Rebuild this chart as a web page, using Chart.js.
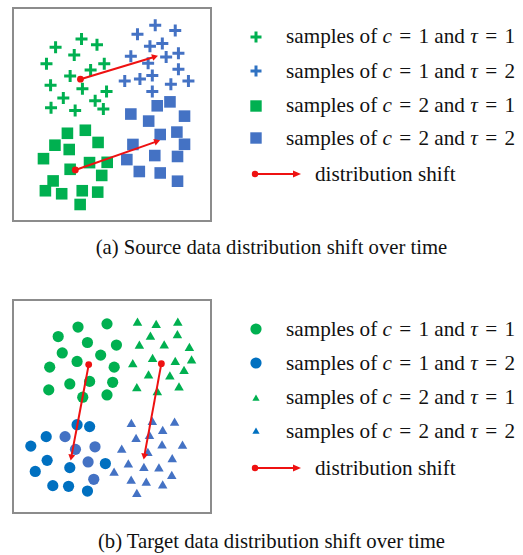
<!DOCTYPE html>
<html>
<head>
<meta charset="utf-8">
<script src="https://cdn.jsdelivr.net/npm/chart.js@4"></script>
<style>
body { margin:0; background:#fff; width:523px; height:555px; position:relative; overflow:hidden;
       font-family:"Liberation Serif","Times New Roman",serif; color:#111; }
.panel { position:absolute; left:12px; width:200px; height:215px; }
.frame { position:absolute; left:12px; width:200px; height:215px; box-sizing:border-box;
         border:2px solid #8c8c8c; pointer-events:none; }
.row { position:absolute; left:240px; height:30px; display:flex; align-items:center;
       font-size:21.2px; white-space:nowrap; }
.row svg { flex:none; height:30px; }
.cap { position:absolute; left:0; width:543px; text-align:center; font-size:20.7px; line-height:30px; }
i { font-style:italic; }
.eq { margin:0 2px; }
</style>
</head>
<body>
<div class="panel" style="top:7px"><canvas id="srcChart"></canvas></div>
<div class="frame" style="top:7px"></div>
<div class="panel" style="top:299px"><canvas id="tgtChart"></canvas></div>
<div class="frame" style="top:299px"></div>
<div id="legends"></div>
<div class="cap" style="top:232px">(a) Source data distribution shift over time</div>
<div class="cap" style="top:526px">(b) Target data distribution shift over time</div>

<script>
// coordonnées (repère local de chaque cadre, y vers le bas)
// (a) source
const srcC1T1X = [38, 66.5, 83.5, 58.5, 28, 91.5, 76.5, 54, 32.5, 67.5, 94, 46.5, 81.5, 33, 59.5, 90.5];
const srcC1T1Y = [34, 25, 31.5, 42.5, 52, 52, 59, 65.5, 75.5, 79.5, 82.5, 89.5, 92.5, 100, 103, 101.5];
const srcC1T2X = [147.5, 128, 169.5, 141.7, 155.3, 120.7, 159.5, 173, 139.7, 173, 114, 130.7, 144.3, 164.7, 184, 144.3];
const srcC1T2Y = [10, 20, 15.7, 33, 30, 44, 44.7, 40.7, 51.7, 58, 71, 68.8, 65, 74.5, 71, 82.3];
const srcC2T1X = [51, 70.7, 37.3, 53, 84.7, 24.7, 75.3, 94.7, 54, 88.7, 35.3, 26.8, 44.7, 67.3, 84.3, 65];
const srcC2T1Y = [128, 124.7, 141, 145.7, 138, 155.7, 160, 159.7, 167.3, 174, 180, 190.7, 194, 190.7, 192.2, 205.7];
const srcC2T2X = [149.7, 163.7, 120.7, 140.3, 179.7, 153, 171.3, 123, 179.7, 116.3, 147, 172, 130, 153, 172];
const srcC2T2Y = [98, 93.7, 107, 114.7, 109.3, 129.3, 126.7, 140.2, 140, 156.7, 152.3, 153.3, 169.7, 171.3, 180.3];
// flèches : départ -> arrivée
const srcShiftFromX = [65.3, 59.7], srcShiftFromY = [69, 168];
const srcShiftToX = [146.3, 148.7], srcShiftToY = [44.7, 137.1];

// (b) target
const tgtC1T1X = [64, 94.7, 43, 74, 104.7, 47.3, 63, 88, 34, 102.3, 76.3, 100.7, 55.3, 33, 69, 94.7];
const tgtC1T1Y = [23.7, 20.3, 33.7, 40, 42.7, 51, 60, 53.3, 66, 66, 81, 82, 83.7, 90, 97.7, 95.3];
const tgtC1T2X = [63, 76.3, 30.3, 50.3, 14, 61.3, 82, 31.3, 74.7, 93, 18.7, 55.3, 80.7, 37.3, 54, 74];
const tgtC1T2Y = [126.7, 128.7, 139.3, 139.3, 149.3, 152.7, 150, 164.3, 166, 167.7, 176, 172, 184.3, 191, 191.7, 196.7];
const tgtC2T1X = [127, 146.8, 169.7, 140.7, 169.3, 129, 155.3, 182, 143, 122, 167, 184.3, 176.3, 138.7, 161.3, 126.3, 171, 148];
const tgtC2T1Y = [19.3, 21.7, 19.3, 34.3, 32.7, 43.7, 43.3, 46, 57.7, 63.3, 60.7, 59.3, 70.3, 75, 76, 88.5, 87.7, 92.7];
const tgtC2T2X = [120.5, 142.7, 166.3, 153.7, 125.5, 139.7, 153, 174.7, 110.3, 138, 163.8, 117.3, 133.8, 149.7, 102.2, 163.3, 120.3, 136.3, 153.7, 126.3];
const tgtC2T2Y = [126.3, 124, 125, 133.7, 142, 139, 149, 149.3, 153.3, 156.8, 163.3, 169, 172.7, 173.3, 177.7, 181, 186, 188.3, 191, 200];
const tgtShiftFromX = [75.3, 152.3], tgtShiftFromY = [63.3, 62.3];
const tgtShiftToX = [57, 134.3], tgtShiftToY = [160.3, 159.3];

const GREEN = '#00b050', BLUE = '#4472c4', DBLUE = '#0070c0', RED = '#ee1111';

const pts = (xs, ys) => xs.map((x, i) => ({ x: x, y: ys[i] }));

function arrows(fx, fy, tx, ty) {
    return fx.map((x, i) => ({
        showLine: true,
        data: [{ x: x, y: fy[i] }, { x: tx[i], y: ty[i] }],
        borderColor: RED,
        borderWidth: 2,
        pointBackgroundColor: RED,
        pointBorderColor: RED,
        pointBorderWidth: 0,
        pointStyle: ctx => ctx.dataIndex === 0 ? 'circle' : 'triangle',
        pointRadius: ctx => ctx.dataIndex === 0 ? 3.4 : 4,
        pointRotation: ctx => {
            if (ctx.dataIndex === 0) return 0;
            const d = ctx.dataset.data, sx = ctx.chart.scales.x, sy = ctx.chart.scales.y;
            const dx = sx.getPixelForValue(d[1].x) - sx.getPixelForValue(d[0].x);
            const dy = sy.getPixelForValue(d[1].y) - sy.getPixelForValue(d[0].y);
            return Math.atan2(dx, -dy) * 180 / Math.PI;
        }
    }));
}

function marks(xs, ys, style, color, radius) {
    const cross = style === 'cross';
    return {
        data: pts(xs, ys),
        pointStyle: style,
        pointRadius: radius,
        pointBackgroundColor: color,
        pointBorderColor: color,
        pointBorderWidth: cross ? 3 : 0
    };
}

function makeChart(id, datasets) {
    return new Chart(document.getElementById(id), {
        type: 'scatter',
        data: { datasets: datasets },
        options: {
            responsive: true,
            maintainAspectRatio: false,
            animation: false,
            events: [],
            layout: { padding: 0 },
            scales: {
                x: { type: 'linear', min: 0, max: 200, display: false },
                y: { type: 'linear', min: 0, max: 215, reverse: true, display: false }
            },
            plugins: { legend: { display: false }, tooltip: { enabled: false } }
        }
    });
}

// (a)
makeChart('srcChart', [
    ...arrows(srcShiftFromX, srcShiftFromY, srcShiftToX, srcShiftToY),
    marks(srcC1T1X, srcC1T1Y, 'cross', GREEN, 6),
    marks(srcC1T2X, srcC1T2Y, 'cross', BLUE, 6),
    marks(srcC2T1X, srcC2T1Y, 'rect', GREEN, 8.2),
    marks(srcC2T2X, srcC2T2Y, 'rect', BLUE, 8.2)
]);

// (b)
const lighter = [3, 5, 6, 8, 12]; // quelques cercles plus clairs
const tgtBlue = marks(tgtC1T2X, tgtC1T2Y, 'circle', DBLUE, 5.6);
tgtBlue.pointBackgroundColor = ctx => lighter.includes(ctx.dataIndex) ? BLUE : DBLUE;
makeChart('tgtChart', [
    ...arrows(tgtShiftFromX, tgtShiftFromY, tgtShiftToX, tgtShiftToY),
    marks(tgtC1T1X, tgtC1T1Y, 'circle', GREEN, 5.6),
    tgtBlue,
    marks(tgtC2T1X, tgtC2T1Y, 'triangle', GREEN, 5.5),
    marks(tgtC2T2X, tgtC2T2Y, 'triangle', BLUE, 5.5)
]);

// Légendes
const legendLabels = [['1', '1'], ['1', '2'], ['2', '1'], ['2', '2']];
const srcRows = [36.7, 71, 105.7, 138.3, 174.3];
const tgtRows = [329.3, 363.3, 397.7, 431, 468.3];

const svgPlus = c => `<svg width="46"><path d="M16 9.5v11M10.5 15h11" stroke="${c}" stroke-width="3"/></svg>`;
const svgSquare = c => `<svg width="46"><rect x="10.3" y="9.3" width="11.4" height="11.4" fill="${c}"/></svg>`;
const svgCircle = c => `<svg width="46"><circle cx="16" cy="15" r="5.6" fill="${c}"/></svg>`;
const svgTri = c => `<svg width="46"><path d="M16 11.5l3.6 6.3h-7.2z" fill="${c}"/></svg>`;
const svgShift = `<svg width="75"><path d="M15 15h41" stroke="${RED}" stroke-width="2"/>`
    + `<circle cx="15" cy="15" r="3.2" fill="${RED}"/><path d="M53 11.6l8 3.4-8 3.4z" fill="${RED}"/></svg>`;

function addLegend(rows, markers) {
    const box = document.getElementById('legends');
    rows.forEach((y, i) => {
        const div = document.createElement('div');
        div.className = 'row';
        div.style.top = (y - 15) + 'px';
        if (i < 4) {
            const [c, t] = legendLabels[i];
            div.innerHTML = markers[i] + `<span>samples of <i>c</i> <span class="eq">=</span> ${c} and <i>τ</i> <span class="eq">=</span> ${t}</span>`;
        } else {
            div.innerHTML = svgShift + '<span>distribution shift</span>';
        }
        box.appendChild(div);
    });
}

addLegend(srcRows, [svgPlus(GREEN), svgPlus('#2f72c2'), svgSquare(GREEN), svgSquare(BLUE)]);
addLegend(tgtRows, [svgCircle(GREEN), svgCircle(DBLUE), svgTri(GREEN), svgTri(DBLUE)]);
</script>
</body>
</html>
